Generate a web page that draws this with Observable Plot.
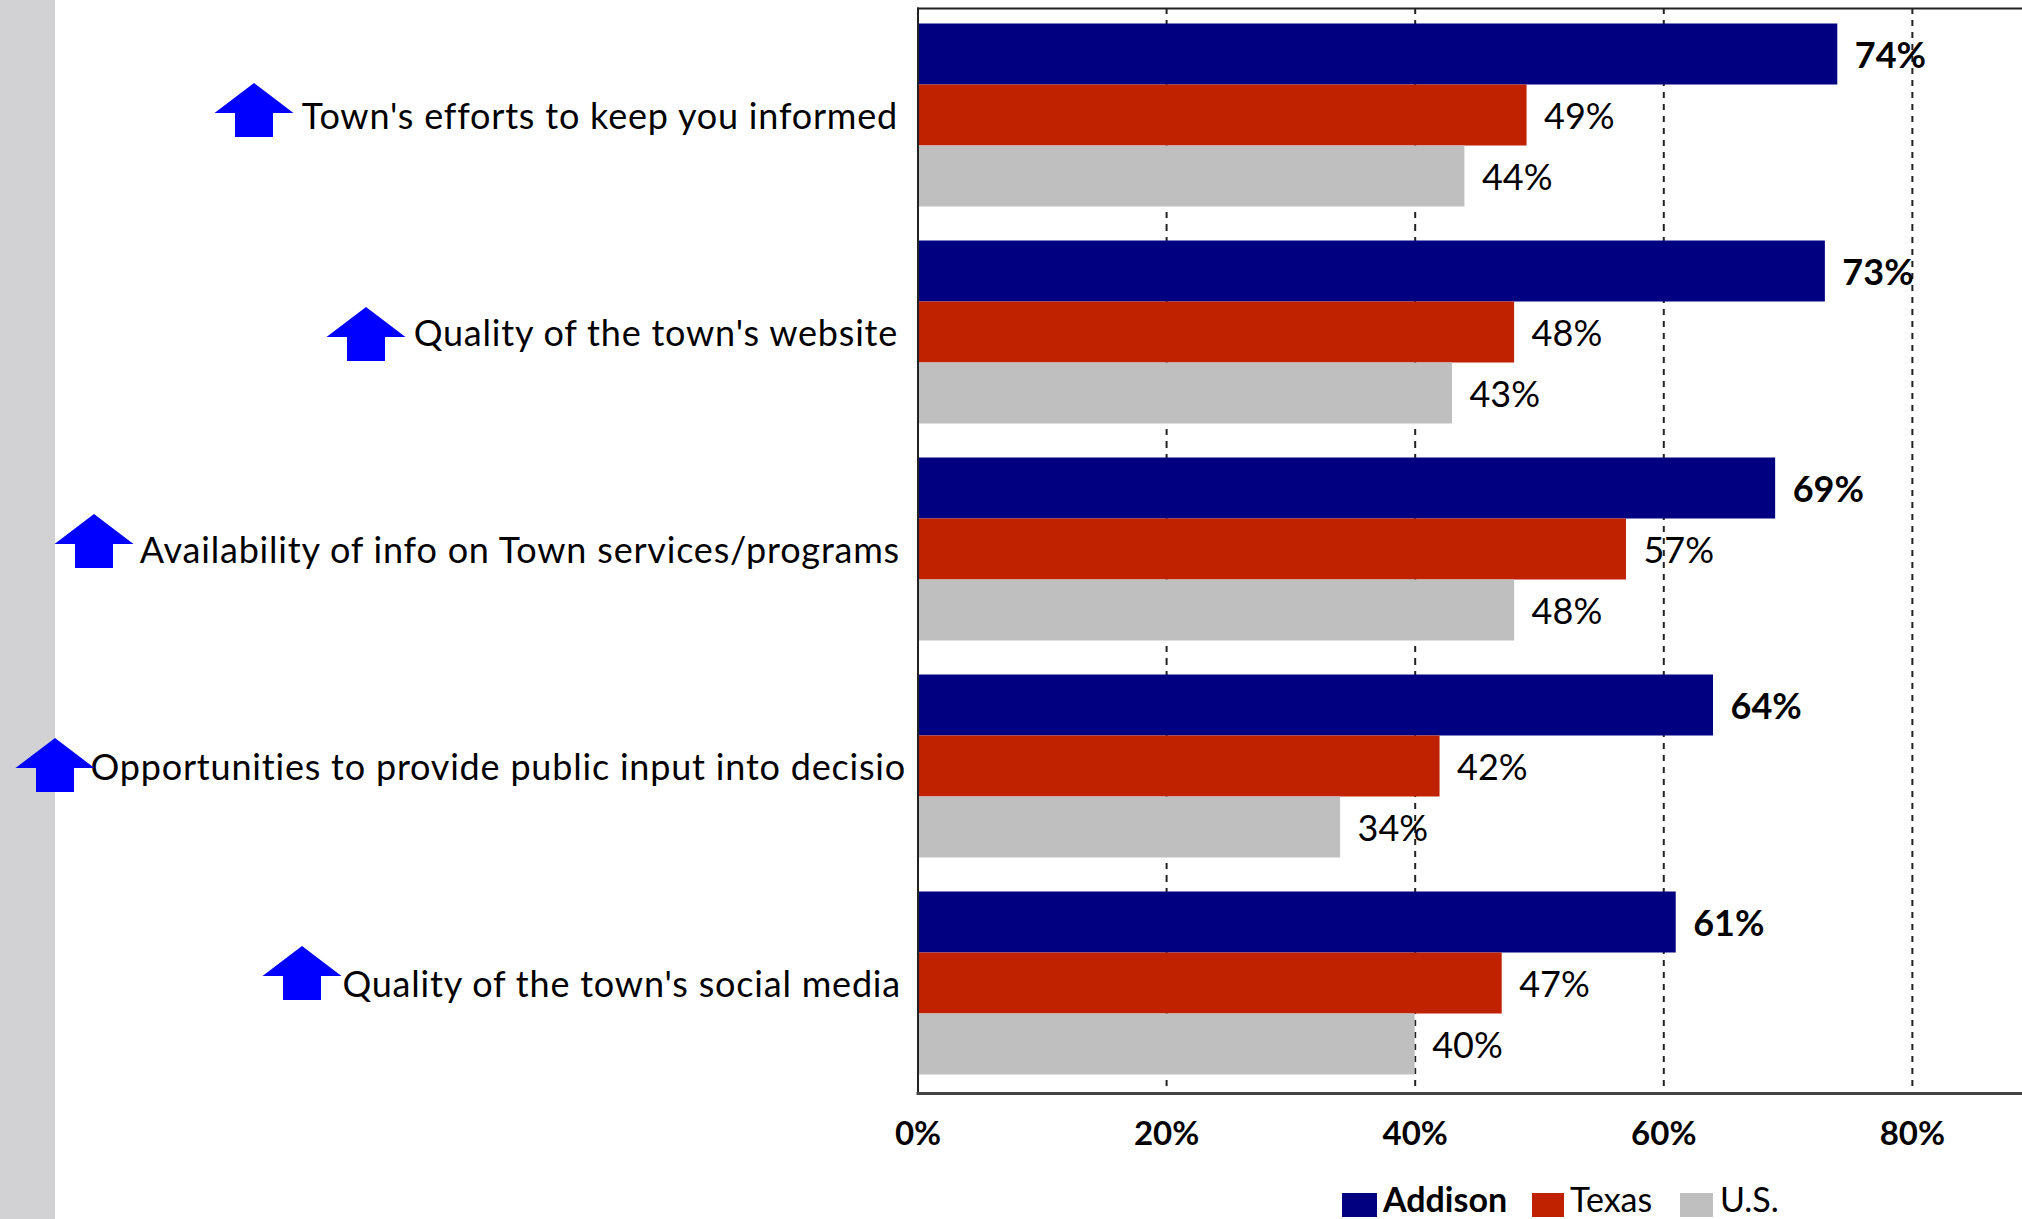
<!DOCTYPE html>
<html>
<head>
<meta charset="utf-8">
<script src="https://cdn.jsdelivr.net/npm/d3@7"></script>
<script src="https://cdn.jsdelivr.net/npm/@observablehq/plot@0.6"></script>
<style>
  html, body { margin: 0; padding: 0; background: #fff; overflow: hidden; }
  #page { position: relative; width: 2022px; height: 1219px; overflow: hidden; font-family: Lato, sans-serif; color: #000; }
  #strip { position: absolute; left: 0; top: 0; width: 55px; height: 100%; background: #d2d2d4; }
  #chart { position: absolute; left: 0; top: 0; }
  #chart svg { max-width: none; display: block; background: transparent; }
  #legend { position: absolute; left: 1342px; top: 1178px; height: 41px; font-size: 34px; line-height: 41px; white-space: nowrap; }
  #legend span.item { position: absolute; top: 0; }
  #legend i { position: absolute; top: 15px; height: 24px; }
</style>
</head>
<body>
<div id="page">
  <div id="strip"></div>
  <div id="chart"></div>
  <div id="legend"></div>
</div>
<script>
// Survey items, top to bottom
const categories = [
  "Town's efforts to keep you informed",
  "Quality of the town's website",
  "Availability of info on Town services/programs",
  "Opportunities to provide public input into decisio",
  "Quality of the town's social media"
];
const seriesNames = ["Addison", "Texas", "U.S."];
const addison = [74, 73, 69, 64, 61];
const texas = [49, 48, 57, 42, 47];
const us = [44, 43, 48, 34, 40];
const xTicks = [0, 20, 40, 60, 80];

const seriesColors = ["#000080", "#c02200", "#bfbfbf"];

const rows = categories.flatMap((category, i) => [
  {category, series: seriesNames[0], value: addison[i]},
  {category, series: seriesNames[1], value: texas[i]},
  {category, series: seriesNames[2], value: us[i]}
]);

// Per-row placement of the category label and its arrow, relative to the zero line
const labelLayout = [
  {labelDx: -20, arrowDx: -664, arrowDy: -7},
  {labelDx: -20, arrowDx: -552, arrowDy: 0},
  {labelDx: -18, arrowDx: -824, arrowDy: -10},
  {labelDx: -12, arrowDx: -863, arrowDy: -3},
  {labelDx: -17, arrowDx: -616, arrowDy: -12}
];

// Block arrow centred on the origin
const upArrow = {
  draw(context) {
    context.moveTo(0, -27);
    context.lineTo(39.5, 3);
    context.lineTo(19, 3);
    context.lineTo(19, 27);
    context.lineTo(-19, 27);
    context.lineTo(-19, 3);
    context.lineTo(-39.5, 3);
    context.closePath();
  }
};

// Value labels: the Addison series is set in bold
const valueLabels = (filter, fontWeight) => Plot.text(rows, {
  filter,
  y: "series", fy: "category", x: "value",
  text: d => `${d.value}%`,
  textAnchor: "start", dx: 17, dy: 0.5,
  fontSize: 36, fontWeight, fill: "#000"
});

const chart = Plot.plot({
  width: 2022,
  height: 1160,
  marginLeft: 917.5,
  marginRight: 0,
  marginTop: 7,
  marginBottom: 66,
  style: {background: "transparent", fontFamily: "Lato, sans-serif", color: "#000"},
  x: {domain: [0, 88.86], axis: null},
  y: {domain: seriesNames, paddingInner: 0, paddingOuter: 0.268, axis: null},
  fy: {domain: categories, padding: 0, axis: null},
  color: {domain: seriesNames, range: seriesColors},
  marks: [
    Plot.gridX(xTicks.slice(1), {stroke: "#222", strokeOpacity: 1, strokeWidth: 2, strokeDasharray: "6,6"}),
    Plot.barX(rows, {y: "series", fy: "category", x: "value", fill: "series", dy: -1.5}),
    valueLabels(d => d.series === seriesNames[0], 700),
    valueLabels(d => d.series !== seriesNames[0], 400),
    ...categories.flatMap((category, i) => [
      Plot.text([category], {
        fy: d => d, x: 0, text: d => d,
        textAnchor: "end", dx: labelLayout[i].labelDx,
        fontSize: 36, fill: "#000"
      }),
      Plot.dot([category], {
        fy: d => d, x: 0, symbol: upArrow, fill: "#0000ff", r: 10,
        dx: labelLayout[i].arrowDx, dy: labelLayout[i].arrowDy
      })
    ]),
    Plot.frame({anchor: "left", facet: "super", stroke: "#222", strokeWidth: 2}),
    Plot.frame({anchor: "top", facet: "super", stroke: "#222", strokeWidth: 2}),
    Plot.frame({anchor: "bottom", facet: "super", stroke: "#444", strokeWidth: 3}),
    Plot.axisX(xTicks, {
      anchor: "bottom", tickSize: 0, tickPadding: 28, label: null,
      tickFormat: d => `${d}%`, fontSize: 33, fontWeight: 700, fill: "#000"
    })
  ]
});

// Category labels run slightly wider than the font's natural spacing
d3.select(chart).selectAll("text")
  .filter(function() { return categories.includes(this.textContent); })
  .style("letter-spacing", "0.8px");

document.getElementById("chart").appendChild(chart);

// Legend below the plot, drawn in series order
const legendLayout = [
  {swatchX: 0, swatchW: 35, textX: 41, weight: 700},
  {swatchX: 190, swatchW: 32, textX: 228, weight: 400},
  {swatchX: 338, swatchW: 33, textX: 378, weight: 400}
];
const legend = d3.select("#legend");
seriesNames.forEach((name, i) => {
  const l = legendLayout[i];
  legend.append("i").style("left", `${l.swatchX}px`).style("width", `${l.swatchW}px`).style("background", seriesColors[i]);
  legend.append("span").attr("class", "item").style("left", `${l.textX}px`).style("font-weight", l.weight).text(name);
});
</script>
</body>
</html>
